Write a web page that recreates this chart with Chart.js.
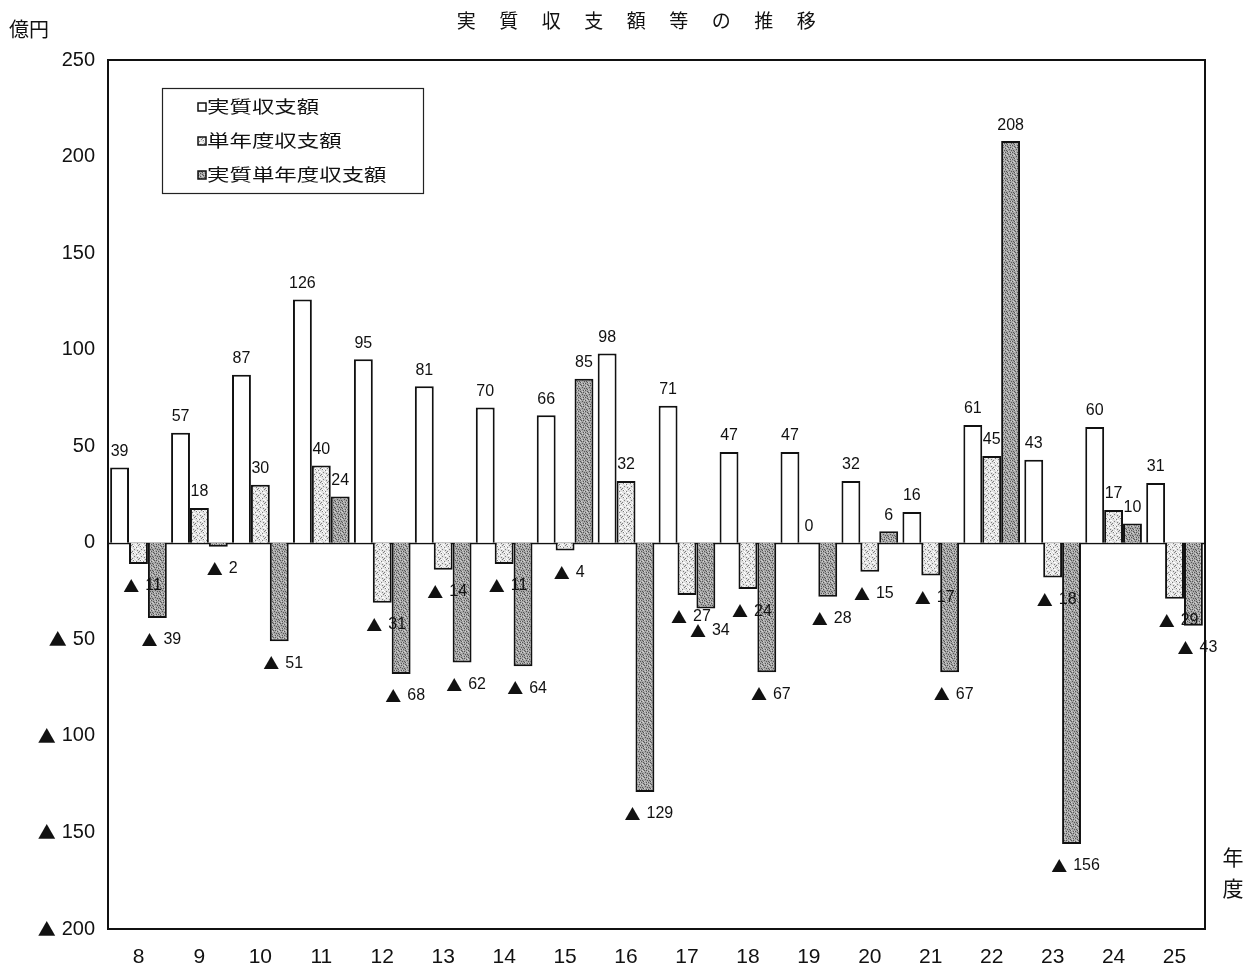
<!DOCTYPE html>
<html>
<head>
<meta charset="utf-8">
<script src="https://cdn.jsdelivr.net/npm/chart.js@4"></script>
<style>
  html, body { margin: 0; padding: 0; background: #fff; }
  #wrap { width: 1246px; height: 971px; position: relative; }
</style>
</head>
<body>
<div id="wrap"><canvas id="c" width="1246" height="971"></canvas></div>
<script>
// 年度 (平成)
const years = ['8','9','10','11','12','13','14','15','16','17','18','19','20','21','22','23','24','25'];
// 実質収支額 (億円)
const realBalance = [39, 57, 87, 126, 95, 81, 70, 66, 98, 71, 47, 47, 32, 16, 61, 43, 60, 31];
// 単年度収支額 (億円)
const singleYearBalance = [-11, 18, 30, 40, -31, -14, -11, -4, 32, -27, -24, 0, -15, -17, 45, -18, 17, -29];
// 実質単年度収支額 (億円)
const realSingleYearBalance = [-39, -2, -51, 24, -68, -62, -64, 85, -129, -34, -67, -28, 6, -67, 208, -156, 10, -43];
// 縦軸目盛
const yTicks = [250, 200, 150, 100, 50, 0, -50, -100, -150, -200];

const seriesNames = ['実質収支額', '単年度収支額', '実質単年度収支額'];

const NUM_FONT = '"Liberation Sans", Arial, sans-serif';
const JP_FONT = '"Noto Sans CJK JP", "Noto Sans", sans-serif';

// speckled fills for the shaded bars
function speckle(base, dark, light, size, pts) {
  const t = document.createElement('canvas');
  t.width = size; t.height = size;
  const g = t.getContext('2d');
  g.fillStyle = base; g.fillRect(0, 0, size, size);
  pts.forEach(([x, y, k]) => {
    g.fillStyle = k ? dark : light;
    g.fillRect(x, y, 1, 1);
  });
  return document.getElementById('c').getContext('2d').createPattern(t, 'repeat');
}
const lightDots = [[0,0,1],[3,1,1],[5,2,0],[1,3,1],[4,4,1],[2,5,0],[6,5,1],[0,6,0],[5,6,1],[2,1,0],[6,3,0],[3,6,0],[1,0,0],[4,2,0]];
const darkDots  = [[0,0,1],[2,0,1],[4,1,1],[6,1,0],[1,2,1],[3,3,1],[5,3,1],[0,4,0],[2,5,1],[4,5,1],[6,6,1],[1,6,0],[5,0,0],[3,5,0],[6,4,1],[3,1,0]];
const lightFill = speckle('#e2e2e2', '#7e7e7e', '#ffffff', 7, lightDots);
const darkFill = speckle('#a6a6a6', '#555555', '#d0d0d0', 7, darkDots);

// "▲ n" labels: triangle in the CJK face, digits in the sans face
function drawValue(ctx, v, x, y, align, numSize, triSize, gap) {
  const num = String(Math.abs(v));
  ctx.font = numSize + 'px ' + NUM_FONT;
  const nw = ctx.measureText(num).width;
  let tw = 0;
  if (v < 0) {
    ctx.font = triSize + 'px ' + JP_FONT;
    tw = ctx.measureText('▲').width + gap;
  }
  const total = tw + nw;
  let x0 = align === 'right' ? x - total : align === 'center' ? x - total / 2 : x;
  ctx.textAlign = 'left';
  if (v < 0) {
    ctx.font = triSize + 'px ' + JP_FONT;
    ctx.fillText('▲', x0, y);
  }
  ctx.font = numSize + 'px ' + NUM_FONT;
  ctx.fillText(num, x0 + tw, y);
}

// Japanese text set on a fixed character pitch
function spaced(ctx, text, x, y, step) {
  ctx.textAlign = 'center';
  [...text].forEach((ch, k) => ctx.fillText(ch, x + step / 2 + k * step, y));
}

// horizontally widened gothic text (legend)
function wide(ctx, text, x, y, sx) {
  ctx.save();
  ctx.translate(x, y);
  ctx.scale(sx, 1);
  ctx.textAlign = 'left';
  ctx.fillText(text, 0, 0);
  ctx.restore();
}

// border box, zero line, axis numbers, bar value labels, legend and captions
const decor = {
  id: 'decor',
  beforeDatasetsDraw(chart) {
    const { ctx, chartArea: a, scales: { y } } = chart;
    ctx.save();
    ctx.strokeStyle = '#111';
    ctx.lineWidth = 1.5;
    const y0 = Math.round(y.getPixelForValue(0)) + 0.5;
    ctx.beginPath();
    ctx.moveTo(a.left, y0); ctx.lineTo(a.right, y0);
    ctx.stroke();
    ctx.restore();
  },
  afterDatasetsDraw(chart) {
    const { ctx, chartArea: a, scales: { y } } = chart;
    ctx.save();
    // plot frame
    ctx.strokeStyle = '#111';
    ctx.lineWidth = 2;
    ctx.strokeRect(a.left, a.top, a.right - a.left, a.bottom - a.top);

    ctx.fillStyle = '#111';
    // vertical axis numbers
    ctx.textBaseline = 'middle';
    yTicks.forEach(v => drawValue(ctx, v, 95, y.getPixelForValue(v), 'right', 20, 18, 6));

    // value labels
    chart.data.datasets.forEach((ds, di) => {
      const meta = chart.getDatasetMeta(di);
      meta.data.forEach((bar, i) => {
        const v = ds.data[i];
        if (v >= 0) {
          ctx.textBaseline = 'bottom';
          drawValue(ctx, v, bar.x, bar.y - 8, 'center', 16, 16, 6);
        } else {
          ctx.textBaseline = 'middle';
          drawValue(ctx, v, bar.x + 4, bar.y + 22, 'center', 16, 16, 6);
        }
      });
    });

    // legend box
    const lx = 162, ly = 88, lw = 261, lh = 105;
    ctx.lineWidth = 1.2;
    ctx.strokeStyle = '#222';
    ctx.strokeRect(lx + 0.5, ly + 0.5, lw, lh);
    const fills = ['#ffffff', lightFill, darkFill];
    ctx.font = '17px ' + JP_FONT;
    ctx.textBaseline = 'middle';
    seriesNames.forEach((name, k) => {
      const cy = 107 + k * 34;
      ctx.fillStyle = fills[k];
      ctx.fillRect(198, cy - 4, 8, 8);
      ctx.lineWidth = 1.5;
      ctx.strokeStyle = '#111';
      ctx.strokeRect(198, cy - 4, 8, 8);
      ctx.fillStyle = '#111';
      wide(ctx, name, 207, cy, 1.32);
    });

    // title
    ctx.font = '19px ' + JP_FONT;
    ctx.textBaseline = 'middle';
    spaced(ctx, '実質収支額等の推移', 445, 21, 42.5);

    // unit and axis captions
    ctx.font = '20px ' + JP_FONT;
    ctx.textAlign = 'left';
    ctx.fillText('億円', 9, 29);
    ctx.font = '21px ' + JP_FONT;
    ctx.textAlign = 'center';
    ctx.fillText('年', 1233, 857);
    ctx.fillText('度', 1233, 888);
    ctx.restore();
  }
};

const barStyle = { borderColor: '#111', borderWidth: 2, borderSkipped: 'start', barPercentage: 1.0, categoryPercentage: 0.93 };

new Chart(document.getElementById('c'), {
  type: 'bar',
  data: {
    labels: years,
    datasets: [
      Object.assign({ label: seriesNames[0], data: realBalance, backgroundColor: '#ffffff' }, barStyle),
      Object.assign({ label: seriesNames[1], data: singleYearBalance, backgroundColor: lightFill }, barStyle),
      Object.assign({ label: seriesNames[2], data: realSingleYearBalance, backgroundColor: darkFill }, barStyle)
    ]
  },
  options: {
    responsive: false,
    animation: false,
    devicePixelRatio: 1,
    layout: { padding: { left: 8, top: 60, right: 41, bottom: 0 } },
    plugins: { legend: { display: false }, tooltip: { enabled: false }, title: { display: false } },
    scales: {
      x: {
        grid: { display: false, drawTicks: false },
        border: { display: false },
        ticks: { color: '#111', font: { family: NUM_FONT, size: 21 }, padding: 16, maxRotation: 0 },
        afterFit(s) { s.height = 42; }
      },
      y: {
        min: -200, max: 250,
        grid: { display: false, drawTicks: false },
        border: { display: false },
        afterBuildTicks(s) { s.ticks = yTicks.map(v => ({ value: v })); },
        ticks: { display: false },
        afterFit(s) { s.width = 100; }
      }
    }
  },
  plugins: [decor]
});
</script>
</body>
</html>
